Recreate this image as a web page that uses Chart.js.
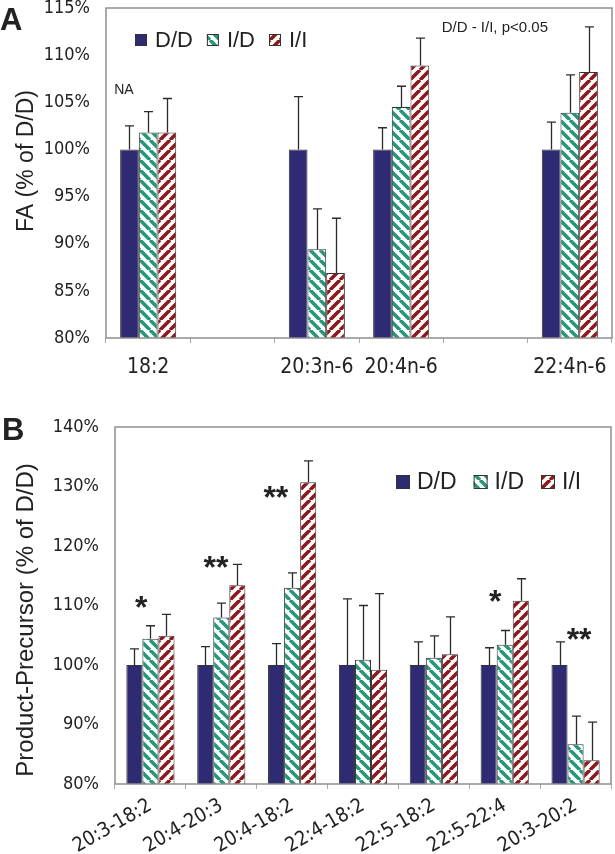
<!DOCTYPE html>
<html>
<head>
<meta charset="utf-8">
<script src="https://cdn.jsdelivr.net/npm/chart.js@4.4.1/dist/chart.umd.min.js"></script>
<style>
  body { margin: 0; background: #fff; }
  #wrapA { position: absolute; left: 0; top: 0; width: 615px; height: 400px; }
  #wrapB { position: absolute; left: 0; top: 400px; width: 615px; height: 454px; }
</style>
</head>
<body>
<div id="wrapA"><canvas id="chartA" width="615" height="400"></canvas></div>
<div id="wrapB"><canvas id="chartB" width="615" height="454"></canvas></div>
<script>
// panel A: fatty acids, % of D/D
const fattyAcids = ['18:2', '', '20:3n-6', '20:4n-6', '', '22:4n-6'];
const faDD = [100, null, 100, 100, null, 100];
const faID = [101.8, null, 89.4, 104.5, null, 103.9];
const faII = [101.8, null, 86.9, 108.9, null, 108.2];
const faDDErr = [2.5, null, 5.6, 2.3, null, 2.9];
const faIDErr = [2.2, null, 4.3, 2.2, null, 4.0];
const faIIErr = [3.6, null, 5.8, 2.9, null, 4.8];
const faTicks = [80, 85, 90, 95, 100, 105, 110, 115];

// panel B: product-precursor ratios, % of D/D
const ratios = ['20:3-18:2', '20:4-20:3', '20:4-18:2', '22:4-18:2', '22:5-18:2', '22:5-22:4', '20:3-20:2'];
const ppDD = [100, 100, 100, 100, 100, 100, 100];
const ppID = [104.4, 108.0, 113.0, 100.9, 101.2, 103.4, 86.7];
const ppII = [104.9, 113.4, 130.7, 99.2, 101.8, 110.8, 84.0];
const ppDDErr = [2.7, 3.1, 3.6, 11.1, 3.9, 2.9, 3.9];
const ppIDErr = [2.2, 2.4, 2.5, 9.1, 3.7, 2.4, 4.7];
const ppIIErr = [3.6, 3.5, 3.6, 12.8, 6.3, 3.7, 6.4];
const ppSig = ['*', '**', '**', '', '', '*', '**'];
const ppTicks = [80, 90, 100, 110, 120, 130, 140];

const genotypes = ['D/D', 'I/D', 'I/I'];

const NARROW = "'Liberation Sans Narrow', 'Arial Narrow', 'DejaVu Sans Condensed', sans-serif";
const SANS = "'Liberation Sans', Arial, sans-serif";
const TXT = '#222';

function stripes(color, dir) {
  const c = document.createElement('canvas');
  c.width = 10; c.height = 10;
  const g = c.getContext('2d');
  g.fillStyle = '#fff';
  g.fillRect(0, 0, 10, 10);
  g.strokeStyle = color;
  g.lineWidth = 3.6;
  g.beginPath();
  for (let k = -10; k <= 10; k += 10) {
    if (dir === 'down') { g.moveTo(k, 0); g.lineTo(k + 10, 10); }
    else { g.moveTo(k, 10); g.lineTo(k + 10, 0); }
  }
  g.stroke();
  return g.createPattern(c, 'repeat');
}

const fillDD = '#2e2b72';
const fillID = stripes('#27977a', 'down');
const fillII = stripes('#8b1a1e', 'up');

function makeDatasets(dd, id, ii, ddE, idE, iiE) {
  const fills = [fillDD, fillID, fillII];
  return [dd, id, ii].map((d, i) => ({
    label: genotypes[i],
    data: d,
    errorBars: [ddE, idE, iiE][i],
    backgroundColor: fills[i],
    borderColor: '#333',
    borderWidth: 1,
    barPercentage: 1.0
  }));
}

// error bars (upper only) drawn on top of the bars
const errorBarPlugin = {
  id: 'errorBars',
  afterDatasetsDraw(chart) {
    const ctx = chart.ctx;
    const ys = chart.scales.y;
    ctx.save();
    ctx.strokeStyle = '#2b2b2b';
    ctx.lineWidth = 1.3;
    chart.data.datasets.forEach((ds, di) => {
      chart.getDatasetMeta(di).data.forEach((bar, i) => {
        const v = ds.data[i], e = ds.errorBars[i];
        if (v == null || e == null) return;
        const x = Math.round(bar.x) + 0.5;
        const top = ys.getPixelForValue(v + e);
        ctx.beginPath();
        ctx.moveTo(x, bar.y);
        ctx.lineTo(x, top);
        ctx.moveTo(x - 4.5, top);
        ctx.lineTo(x + 4.5, top);
        ctx.stroke();
      });
    });
    ctx.restore();
  }
};

// grey box round the plot area
const framePlugin = {
  id: 'frame',
  afterDraw(chart) {
    const a = chart.chartArea, ctx = chart.ctx;
    ctx.save();
    ctx.strokeStyle = '#8e8e8e';
    ctx.lineWidth = 1.5;
    ctx.strokeRect(a.left, a.top, a.right - a.left, a.bottom - a.top);
    ctx.restore();
  }
};

function drawLegend(chart, x, yMid, box, size, gap, itemGap) {
  const ctx = chart.ctx;
  ctx.save();
  ctx.font = size + 'px ' + SANS;
  ctx.textBaseline = 'middle';
  ctx.textAlign = 'left';
  chart.data.datasets.forEach(ds => {
    ctx.fillStyle = ds.backgroundColor;
    ctx.fillRect(x, yMid - box / 2, box, box);
    ctx.strokeStyle = '#333';
    ctx.lineWidth = 1;
    ctx.strokeRect(x + 0.5, yMid - box / 2 + 0.5, box - 1, box - 1);
    x += box + gap;
    ctx.fillStyle = TXT;
    ctx.fillText(ds.label, x, yMid + 1);
    x += ctx.measureText(ds.label).width + itemGap;
  });
  ctx.restore();
}

function drawYTitle(ctx, text, x, y, size) {
  ctx.save();
  ctx.translate(x, y);
  ctx.rotate(-Math.PI / 2);
  ctx.font = size + 'px ' + SANS;
  ctx.fillStyle = TXT;
  ctx.textAlign = 'center';
  ctx.textBaseline = 'middle';
  ctx.fillText(text, 0, 0);
  ctx.restore();
}

const decorA = {
  id: 'decorA',
  afterDraw(chart) {
    const ctx = chart.ctx, a = chart.chartArea;
    const xs = chart.scales.x, ys = chart.scales.y;
    ctx.save();
    ctx.fillStyle = TXT;
    ctx.font = 'bold 31px ' + SANS;
    ctx.textAlign = 'left';
    ctx.textBaseline = 'alphabetic';
    ctx.fillText('A', 0, 30);
    ctx.font = '14px ' + SANS;
    ctx.textBaseline = 'middle';
    ctx.fillText('NA', xs.getPixelForValue(0) - 34, ys.getPixelForValue(106.3));
    ctx.font = '15px ' + SANS;
    ctx.textAlign = 'right';
    ctx.fillText('D/D - I/I, p<0.05', a.right - 64, a.top + 20);
    ctx.restore();
    drawYTitle(ctx, 'FA (% of D/D)', 27, 161, 23);
    drawLegend(chart, 135, a.top + 32, 12, 22, 8, 14);
  }
};

// significance marks, placed as (category offset, value)
const sigPlace = [[-0.13, 110.8], [-0.075, 117.5], [-0.23, 129.2], null, null, [-0.135, 111.8], [0.05, 105.4]];

const decorB = {
  id: 'decorB',
  afterDraw(chart) {
    const ctx = chart.ctx, a = chart.chartArea;
    const xs = chart.scales.x, ys = chart.scales.y;
    const catW = (a.right - a.left) / ratios.length;
    ctx.save();
    ctx.fillStyle = TXT;
    ctx.font = 'bold 31px ' + SANS;
    ctx.textAlign = 'left';
    ctx.textBaseline = 'alphabetic';
    ctx.fillText('B', 2, 40);
    ctx.font = 'bold 32px ' + SANS;
    ctx.textAlign = 'center';
    ppSig.forEach((s, i) => {
      if (!s || !sigPlace[i]) return;
      const x = xs.getPixelForValue(i) + sigPlace[i][0] * catW;
      const y = ys.getPixelForValue(sigPlace[i][1]) + 0.53 * 32;
      ctx.fillText(s, x, y);
    });
    ctx.restore();
    drawYTitle(ctx, 'Product-Precursor (% of D/D)', 26, 220, 24);
    drawLegend(chart, 396, a.top + 55, 14, 23, 7, 17);
  }
};

function scaleOptions(ticks, yWidth, xHeight, rot, xFont, xPad) {
  return {
    x: {
      grid: { display: true, drawOnChartArea: false, drawTicks: true, tickLength: 5, color: '#aaa', offset: true },
      border: { display: false },
      ticks: { font: { family: NARROW, size: xFont }, color: TXT, padding: xPad, autoSkip: false, maxRotation: rot, minRotation: rot },
      afterFit: s => { s.height = xHeight; s.paddingLeft = 0; s.paddingRight = 0; }
    },
    y: {
      min: ticks[0],
      max: ticks[ticks.length - 1],
      grid: { display: false, drawTicks: false },
      border: { display: false },
      afterBuildTicks: s => { s.ticks = ticks.map(v => ({ value: v })); },
      ticks: { callback: v => v + '%', padding: 16, font: { family: NARROW, size: 18 }, color: TXT },
      afterFit: s => { s.width = yWidth; s.paddingTop = 0; s.paddingBottom = 0; }
    }
  };
}

const chartA = new Chart(document.getElementById('chartA'), {
  type: 'bar',
  data: { labels: fattyAcids, datasets: makeDatasets(faDD, faID, faII, faDDErr, faIDErr, faIIErr) },
  options: {
    responsive: false,
    animation: false,
    datasets: { bar: { categoryPercentage: 0.665 } },
    layout: { padding: { left: 0, right: 3, top: 8, bottom: 0 } },
    plugins: { legend: { display: false }, tooltip: { enabled: false } },
    scales: scaleOptions(faTicks, 106, 62, 0, 21, 12)
  },
  plugins: [errorBarPlugin, framePlugin, decorA]
});

const chartB = new Chart(document.getElementById('chartB'), {
  type: 'bar',
  data: { labels: ratios, datasets: makeDatasets(ppDD, ppID, ppII, ppDDErr, ppIDErr, ppIIErr) },
  options: {
    responsive: false,
    animation: false,
    datasets: { bar: { categoryPercentage: 0.68 } },
    layout: { padding: { left: 0, right: 4, top: 27, bottom: 0 } },
    plugins: { legend: { display: false }, tooltip: { enabled: false } },
    scales: scaleOptions(ppTicks, 115, 70, 30, 20, 5)
  },
  plugins: [errorBarPlugin, framePlugin, decorB]
});
</script>
</body>
</html>
